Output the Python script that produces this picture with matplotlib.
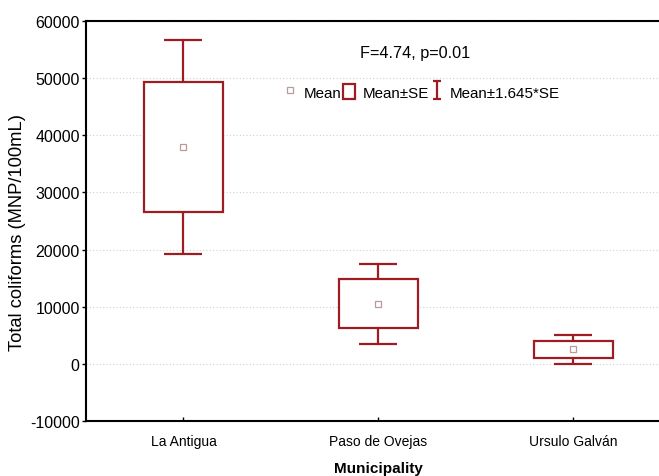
import numpy as np
import matplotlib.pyplot as plt
from matplotlib.lines import Line2D
from matplotlib.path import Path

plt.rcParams['font.family'] = ['Liberation Sans', 'DejaVu Sans']
plt.rcParams['axes.unicode_minus'] = False

# data
municipality = ['La Antigua', 'Paso de Ovejas', 'Ursulo Galván']
mean = np.array([37950, 10500, 2540])
se = np.array([11380, 4290, 1520])
stat_text = 'F=4.74, p=0.01'

RED = '#9e1c22'
x = np.arange(1, len(municipality) + 1)

fig = plt.figure(figsize=(6.59, 4.77), dpi=100)
ax = fig.add_axes([0.1305, 0.1153, 0.8877, 0.8386])

# whiskers: mean +/- 1.645*SE
ax.errorbar(x, mean, yerr=1.645 * se, fmt='none', ecolor=RED, elinewidth=1.6,
            capsize=14, capthick=1.6, zorder=2)
# box: mean +/- SE
ax.bar(x, 2 * se, bottom=mean - se, width=0.405, facecolor='white',
       edgecolor=RED, linewidth=1.6, zorder=3)
# mean marker
ax.plot(x, mean, linestyle='none', marker='s', markersize=4.5,
        markerfacecolor='white', markeredgecolor='#b89a9a', markeredgewidth=0.9,
        zorder=4)

ax.set_xlim(0.5, 3.5)
ax.set_ylim(-10000, 60000)
ax.set_yticks(np.arange(-10000, 60001, 10000))
ax.set_xticks(x)
ax.set_xticklabels(municipality, fontsize=10)
ax.tick_params(axis='y', labelsize=11.5, direction='out', length=3, width=1, pad=1.5)
ax.tick_params(axis='x', direction='in', length=3, width=1, pad=9)

ax.yaxis.grid(True, linestyle=(0, (1, 2)), color='#d0d0d0', linewidth=0.8)
ax.set_axisbelow(True)
for s in ['left', 'top', 'bottom']:
    ax.spines[s].set_linewidth(1.5)
ax.spines['right'].set_visible(False)

ax.set_ylabel('Total coliforms (MNP/100mL)', fontsize=13.2)
ax.yaxis.set_label_coords(-0.102, 0.4725)
ax.set_xlabel('Municipality', fontsize=11, fontweight='bold', labelpad=9.5)

ax.text(0.563, 0.92, stat_text, transform=ax.transAxes, ha='center',
        va='center', fontsize=11.7)

# legend keys
ibar = Path([(-0.4, 1), (0.4, 1), (0, 1), (0, -1), (-0.4, -1), (0.4, -1)],
            [Path.MOVETO, Path.LINETO, Path.MOVETO, Path.LINETO,
             Path.MOVETO, Path.LINETO])
h_mean = Line2D([], [], linestyle='none', marker='s', markersize=4.5,
                markerfacecolor='white', markeredgecolor='#b89a9a',
                markeredgewidth=0.9)
h_box = plt.Rectangle((0, 0), 1, 1, facecolor='white', edgecolor=RED,
                      linewidth=1.6)
h_bar = Line2D([], [], linestyle='none', marker=ibar, markersize=13.5,
               markerfacecolor='none', markeredgecolor=RED, markeredgewidth=1.6)
ax.legend([h_mean, h_box, h_bar], ['Mean', 'Mean±SE', 'Mean±1.645*SE'],
          loc='center', bbox_to_anchor=(0.574, 0.8225), ncol=3, frameon=False,
          fontsize=10.9, handlelength=0.85, handleheight=1.15, handletextpad=0.45,
          columnspacing=0.1, borderpad=0)

fig.savefig('out.png', dpi=100)
